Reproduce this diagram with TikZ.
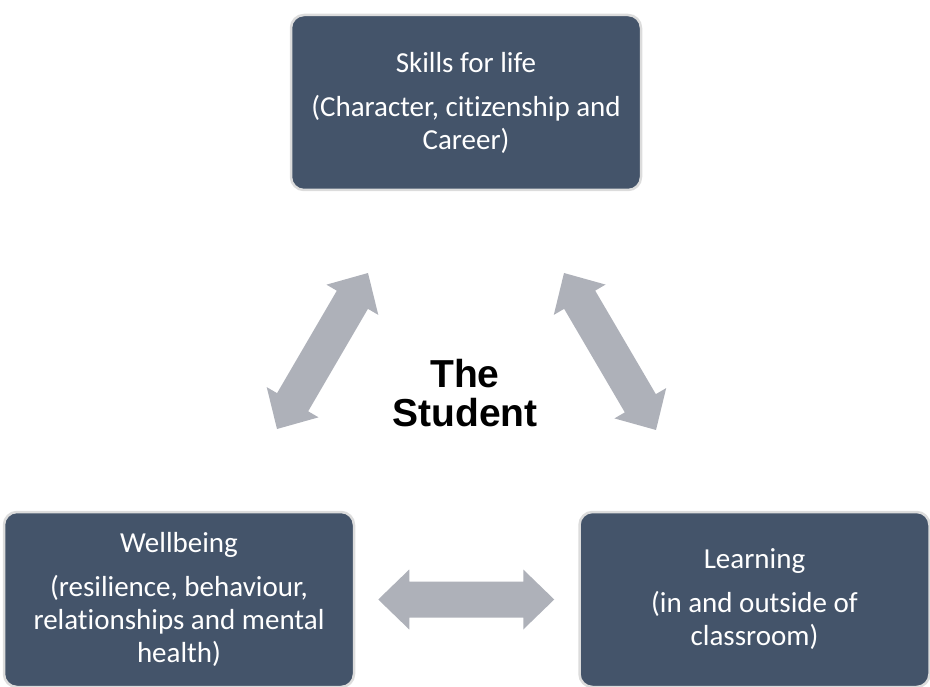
\documentclass[tikz,border=0pt]{standalone}
\usepackage{fontspec}
\setmainfont{Carlito}[Ligatures=NoCommon]
\newfontfamily\headfont{Liberation Sans}
\usetikzlibrary{calc}

\definecolor{boxblue}{RGB}{68,84,106}
\definecolor{boxrim}{RGB}{220,220,220}
\definecolor{arrowgray}{RGB}{174,177,185}

\tikzset{
    themebox/.style={
        rectangle, rounded corners=13pt,
        fill=boxblue, draw=boxrim, line width=2.5pt,
        minimum width=350pt, minimum height=175pt, inner sep=0pt,
        text=white, align=center,
        font=\fontsize{29}{33}\selectfont
    },
    centretext/.style={
        align=center, inner sep=0pt,
        font=\headfont\bfseries\fontsize{39}{39}\selectfont
    },
}

% block arrow with a head at both ends, from #1 to #2
\newcommand\dblarrow[2]{%
    \fill[arrowgray] let \p1=($(#2)-(#1)$), \n1={atan2(\y1,\x1)}, \n2={veclen(\x1,\y1)} in
        [shift={(#1)}, rotate=\n1]
        (0pt,0pt) -- (31pt,30pt) -- (31pt,18pt) -- (\n2-31pt,18pt) -- (\n2-31pt,30pt)
        -- (\n2,0pt) -- (\n2-31pt,-30pt) -- (\n2-31pt,-18pt) -- (31pt,-18pt) -- (31pt,-30pt) -- cycle;
}

\begin{document}
\begin{tikzpicture}[x=1pt,y=-1pt]
\useasboundingbox (0,0) rectangle (930,687);

\node[themebox] (skills) at (466,102.5) {Skills for life\\[11pt](Character, citizenship and\\Career)};
\node[themebox] (wellbeing) at (179,599.5) {Wellbeing\\[11pt](resilience, behaviour,\\relationships and mental\\health)};
\node[themebox] (learning) at (754.5,599.5) {Learning\\[11pt](in and outside of\\classroom)};

\node[centretext] (student) at (465,393.5) {The\\Student};

% arrow ends
\coordinate (skl) at (368,273);
\coordinate (wbt) at (277,429);
\coordinate (skr) at (564,273);
\coordinate (lnt) at (656,430);
\coordinate (wbr) at ($(wellbeing.east)+(23,0)$);
\coordinate (lnl) at ($(learning.west)+(-24,0)$);

\dblarrow{wbt}{skl}
\dblarrow{skr}{lnt}
\dblarrow{wbr}{lnl}
\end{tikzpicture}
\end{document}
